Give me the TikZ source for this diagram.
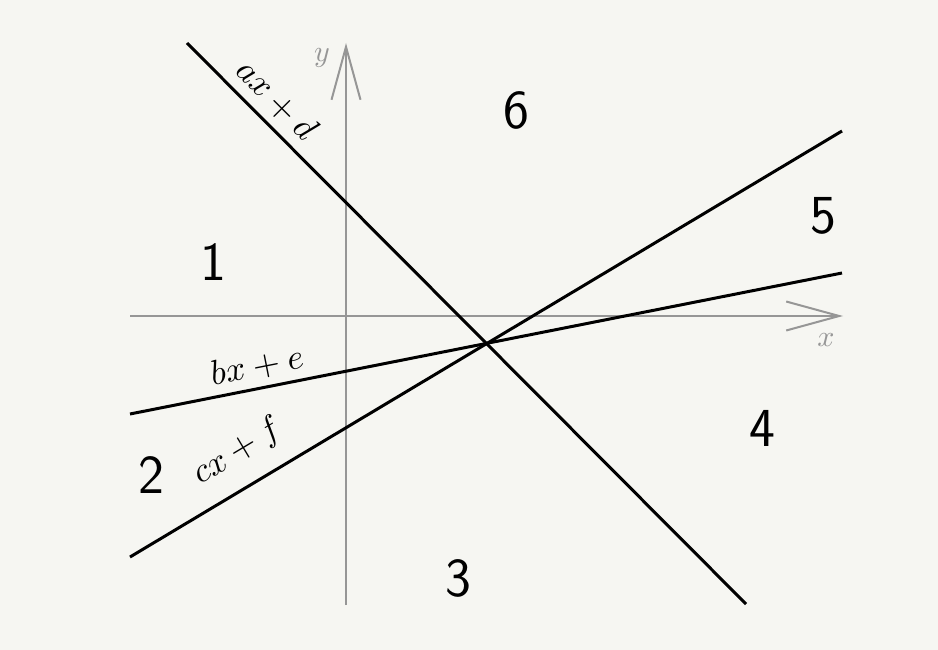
\documentclass[tikz,border=0pt]{standalone}
\usetikzlibrary{arrows.meta}
\definecolor{bgc}{RGB}{246,246,242}
\definecolor{axc}{RGB}{150,150,150}
\tikzset{
  axis/.style={draw=axc, line width=2pt, -{Straight Barb[length=53pt,width=29pt,line width=2pt]}},
  bline/.style={draw=black, line width=3pt},
  region/.style={font=\fontsize{55}{60}\selectfont\sffamily},
  lbl/.style={scale=3.5, inner sep=0pt},
  axlbl/.style={scale=3.0, text=axc, inner sep=0pt}
}
\begin{document}
\begin{tikzpicture}[x=1pt,y=-1pt]
\fill[bgc] (0,0) rectangle (938,650);
\useasboundingbox (0,0) rectangle (938,650);
% axes
\coordinate (xs) at (130,316);
\coordinate (xe) at (843,316);
\coordinate (ys) at (346,605);
\coordinate (ye) at (346,43);
\draw[axis] (xs) -- (xe);
\draw[axis] (ys) -- (ye);
\node[axlbl] (ylab) at (322,58) {$y$};
\node[axlbl] (xlab) at (826,340) {$x$};
% lines
\coordinate (a1) at (187,43);
\coordinate (a2) at (746,604);
\coordinate (b1) at (130,414);
\coordinate (b2) at (842,273);
\coordinate (c1) at (130,557);
\coordinate (c2) at (842,131);
\draw[bline] (a1) -- (a2);
\draw[bline] (b1) -- (b2);
\draw[bline] (c1) -- (c2);
% line labels
\node[lbl, rotate=-45] (la) at (277,100) {$ax+d$};
\node[lbl, rotate=11.2] (lb) at (257,366) {$bx+e$};
\node[lbl, rotate=30.9] (lc) at (238,452) {$cx+f$};
% regions
\node[region] (r1) at (213,262) {1};
\node[region] (r2) at (151,475) {2};
\node[region] (r3) at (458,578) {3};
\node[region] (r4) at (762,428) {4};
\node[region] (r5) at (823,216) {5};
\node[region] (r6) at (516,110) {6};
\end{tikzpicture}
\end{document}
